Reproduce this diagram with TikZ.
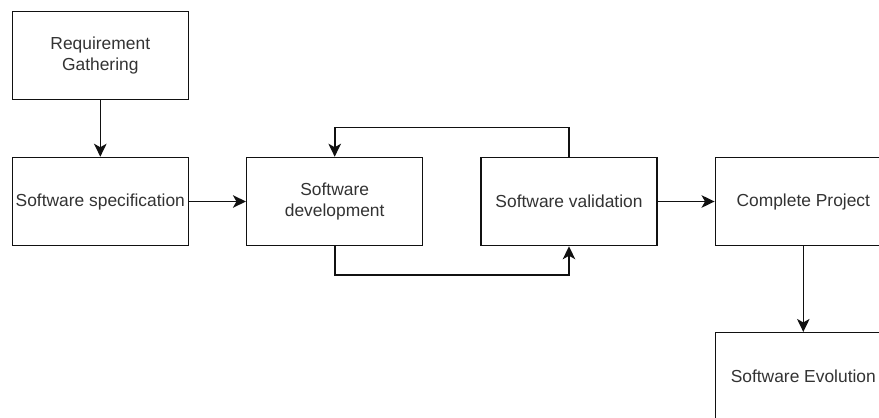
\documentclass[tikz,border=0pt]{standalone}
\usepackage{fontspec}
\setmainfont{Liberation Sans}
\usetikzlibrary{arrows.meta}

\definecolor{inkline}{HTML}{111111}
\definecolor{inktext}{HTML}{333333}

\tikzset{
  stagebox/.style={draw=inkline, line width=1.5pt, fill=white,
    minimum width=176pt, minimum height=88pt, inner sep=0pt,
    text=inktext, align=center,
    font=\fontsize{17.4}{21.5}\selectfont},
  flow/.style={draw=inkline, line width=1.6pt,
    -{Stealth[length=13pt, width=12.5pt, inset=3.5pt]}},
}

\begin{document}
\begin{tikzpicture}[x=1pt, y=-1pt]
  \fill[white] (0,0) rectangle (879,418);
  \clip (0,0) rectangle (879,418);

  % process stages
  \node[stagebox] (req)  at (100.3, 55.7)  {Requirement\\Gathering};
  \node[stagebox] (spec) at (100.3, 201.5) {Software specification};
  \node[stagebox] (dev)  at (334.7, 201.5) {Software\\development};
  \node[stagebox] (val)  at (569.0, 201.5) {Software validation};
  \node[stagebox] (done) at (803.3, 201.5) {Complete Project};
  \node[stagebox] (evo)  at (803.3, 376.7) {Software Evolution};

  % main flow
  \draw[flow] (req.south)  -- (spec.north);
  \draw[flow] (spec.east)  -- (dev.west);
  \draw[flow] (val.east)   -- (done.west);
  \draw[flow] (done.south) -- (evo.north);

  % development / validation loop
  \draw[flow] (dev.south) -- ++(0,28.8) -| (val.south);
  \draw[flow] (val.north) -- ++(0,-29.2) -| (dev.north);
\end{tikzpicture}
\end{document}
